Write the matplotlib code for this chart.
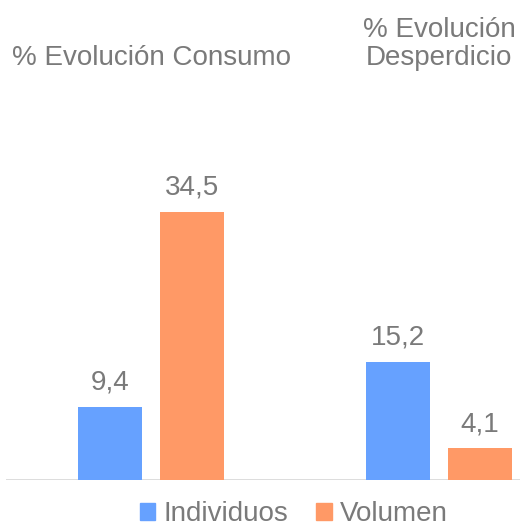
import matplotlib
matplotlib.use("Agg")
import matplotlib.pyplot as plt
from matplotlib.patches import Patch

categories = ["% Evolución Consumo", "% Evolución\nDesperdicio"]
series_names = ["Individuos", "Volumen"]
individuos = [9.4, 15.2]
volumen = [34.5, 4.1]
colors = ["#66A1FF", "#FF9966"]
text_color = "#7A7A7A"

plt.rcParams['font.family'] = ['Liberation Sans', 'DejaVu Sans']

fig = plt.figure(figsize=(5.2, 5.28), dpi=100)
ax = fig.add_axes([6/520, 48/528, 514/520, 380/528])

x = [0, 1]
w = 0.222
off = 0.1424
for vals, sgn, c in [(individuos, -1, colors[0]), (volumen, 1, colors[1])]:
    xs = [xi + sgn * off for xi in x]
    bars = ax.bar(xs, vals, width=w, color=c)
    for xb, v in zip(xs, vals):
        ax.annotate(f"{v:.1f}".replace(".", ","), (xb, v), xytext=(0, 8),
                    textcoords="offset points", ha="center", va="bottom",
                    fontsize=20, color=text_color)

ax.set_xlim(-0.503, 1.281)
ax.set_ylim(0, 48.9)
ax.axis("off")
ax.axhline(0, color="#D9D9D9", lw=2, zorder=0)

# category labels at top
fig.text(151/520, 1 - 58/528, categories[0], ha="center", va="center",
         fontsize=20, color=text_color)
fig.text(439/520, 1 - 44/528, categories[1], ha="center", va="center",
         fontsize=20, color=text_color, linespacing=1.1)

handles = [Patch(color=colors[0]), Patch(color=colors[1])]
leg = fig.legend(handles, series_names, loc="center", bbox_to_anchor=(294/520, 1 - 514/528),
                 ncol=2, frameon=False, fontsize=20, handlelength=0.55, handleheight=0.55,
                 handletextpad=0.3, columnspacing=1.0, labelcolor=text_color)

fig.savefig("out.png", dpi=100)
